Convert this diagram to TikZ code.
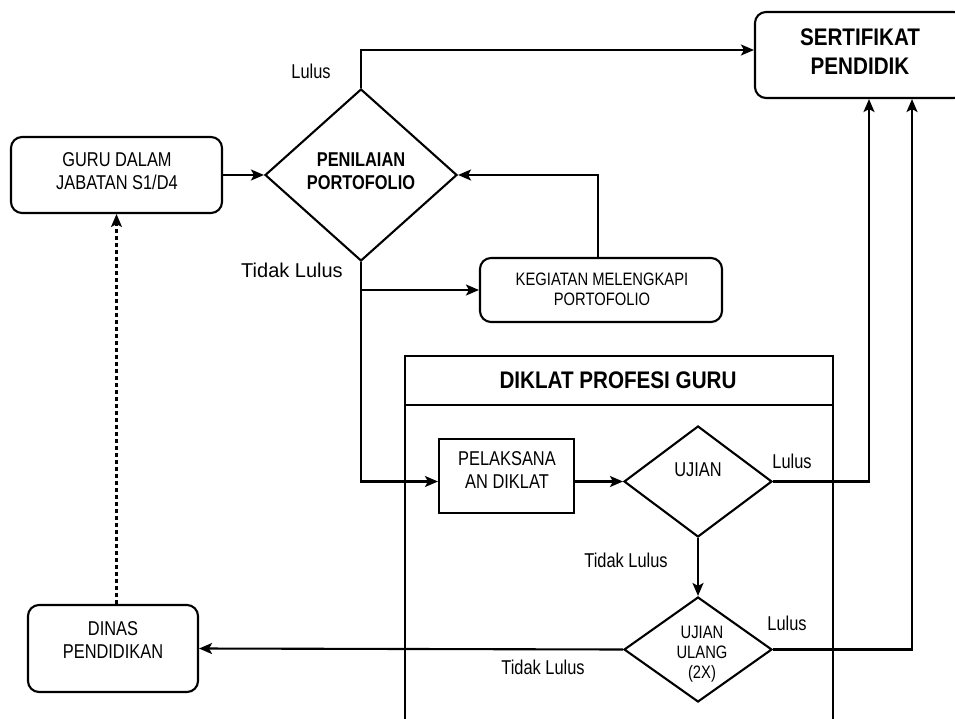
\documentclass[tikz,border=0pt]{standalone}
\usepackage{fontspec}
\setmainfont{Liberation Sans}
\newfontfamily\narrowfont{Liberation Sans}[FakeStretch=0.82]
\newfontfamily\titlefont{Liberation Sans}[FakeStretch=0.86]
\newfontfamily\widefont{Liberation Sans}
\usetikzlibrary{arrows.meta,shapes.geometric,calc}
\begin{document}
\begin{tikzpicture}[x=1pt,y=-1pt,
  line width=2.1pt,
  arr/.style={-{Stealth[length=13pt,width=11pt,inset=3pt]}},
  rbox/.style={draw,rounded corners=11pt,inner sep=0pt,align=center},
  sbox/.style={draw,inner sep=0pt,align=center},
  dia/.style={draw,diamond,aspect=1,inner sep=0pt},
  txt/.style={inner sep=0pt,align=center,font=\narrowfont\fontsize{20}{23}\selectfont},
  stxt/.style={inner sep=0pt,align=center,font=\narrowfont\fontsize{18}{20}\selectfont},
  btxt/.style={inner sep=0pt,align=center,font=\narrowfont\bfseries\fontsize{20}{23}\selectfont},
  htxt/.style={inner sep=0pt,align=center,font=\titlefont\bfseries\fontsize{24}{29}\selectfont},
  dotarrow/.style={line width=3.2pt,dash pattern=on 4pt off 3pt,-{Stealth[length=13pt,width=11pt,inset=3pt,line width=2pt]}}
]
\useasboundingbox (0,0) rectangle (955,719);

% container
\draw (405,730) -- (405,356) -- (833,356) -- (833,730);
\draw (405,405) -- (833,405);
\node[htxt] (title) at (618,380) {DIKLAT PROFESI GURU};

% boxes
\node[rbox,minimum width=211pt,minimum height=76pt] (guru) at (116.5,175) {};
\node[txt] (gurut) at (117,171) {GURU DALAM\\JABATAN S1/D4};

\node[dia,minimum width=192pt,minimum height=172pt] (pen) at (361,175) {};
\node[btxt] (pent) at (361,171) {PENILAIAN\\PORTOFOLIO};

\node[rbox,minimum width=210pt,minimum height=86pt] (sert) at (860,55) {};
\node[htxt] (sertt) at (860,52) {SERTIFIKAT\\PENDIDIK};

\node[rbox,minimum width=242pt,minimum height=64pt] (keg) at (601,290) {};
\node[stxt] (kegt) at (602,289) {KEGIATAN MELENGKAPI\\PORTOFOLIO};

\node[sbox,minimum width=135pt,minimum height=74pt] (pel) at (506.5,476) {};
\node[txt] (pelt) at (507,470) {PELAKSANA\\AN DIKLAT};

\node[dia,minimum width=148pt,minimum height=111pt] (uj) at (698,481.5) {};
\node[txt] (ujt) at (698,470) {UJIAN};

\node[dia,minimum width=148pt,minimum height=105pt] (uu) at (698,649.5) {};
\node[stxt] (uut) at (702,654) {UJIAN\\ULANG\\(2X)};

\node[rbox,minimum width=170pt,minimum height=87pt] (dinas) at (113,648.5) {};
\node[txt] (dinast) at (113,640) {DINAS\\PENDIDIKAN};

% connectors
\draw[arr] (guru.east) -- (pen.west);
\draw[arr] (pen.north) |- ([yshift=5pt]sert.west);
\draw[arr] ([xshift=-3pt]keg.north) |- (pen.east);
\draw[arr] (pen.south) |- (pel.west |- uj.west);
\draw[arr] (pen.south |- keg.west) -- (keg.west);
\draw[arr] (pel.east |- uj.west) -- (uj.west);
\draw[arr] (uj.east) -| ([xshift=9pt]sert.south);
\draw[arr] (uj.south) -- (uu.north);
\draw[arr] (uu.east) -| ([xshift=52pt]sert.south);
\draw[arr] (uu.west) -- (dinas.east);
\draw[dotarrow] (guru.south |- dinas.north) -- (guru.south);

% labels
\node[txt] (l1) at (311,71) {Lulus};
\node[inner sep=0pt,font=\widefont\fontsize{20}{23}\selectfont] (l2) at (292,270) {Tidak Lulus};
\node[txt] (l3) at (792,461) {Lulus};
\node[txt] (l4) at (626,560) {Tidak Lulus};
\node[txt] (l5) at (787,623) {Lulus};
\node[txt] (l6) at (543,667) {Tidak Lulus};
\end{tikzpicture}
\end{document}
